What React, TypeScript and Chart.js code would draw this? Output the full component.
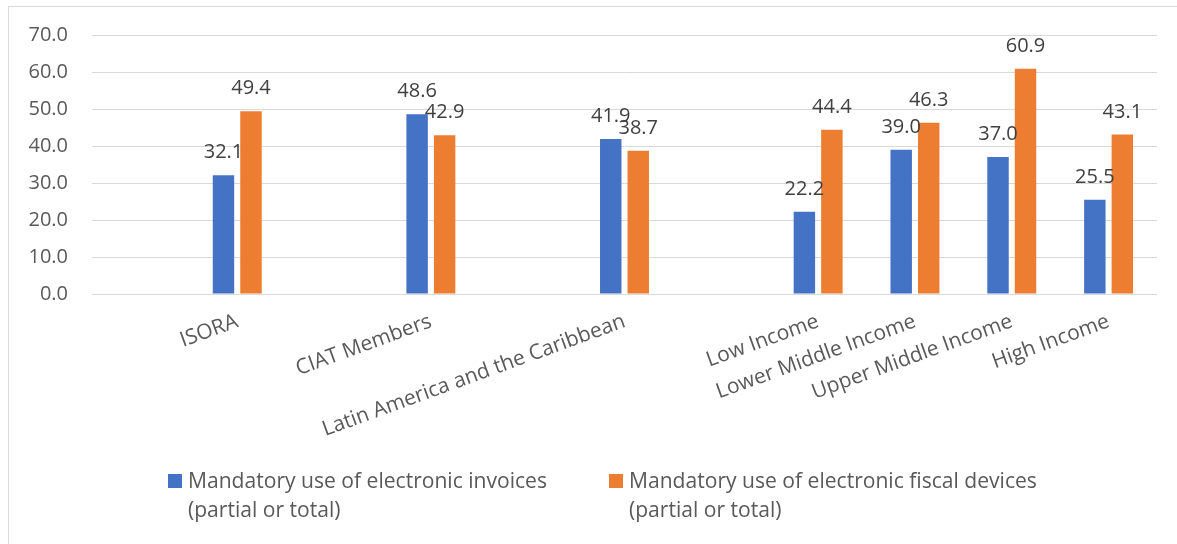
import React, { useEffect, useRef } from "react";
import { Chart, registerables } from "chart.js";

Chart.register(...registerables);

const categories = [
  "",
  "ISORA",
  "",
  "CIAT Members",
  "",
  "Latin America and the Caribbean",
  "",
  "Low Income",
  "Lower Middle Income",
  "Upper Middle Income",
  "High Income",
];
const invoices: (number | null)[] = [null, 32.1, null, 48.6, null, 41.9, null, 22.2, 39.0, 37.0, 25.5];
const fiscalDevices: (number | null)[] = [null, 49.4, null, 42.9, null, 38.7, null, 44.4, 46.3, 60.9, 43.1];
const seriesNames = [
  ["Mandatory use of electronic invoices", "(partial or total)"],
  ["Mandatory use of electronic fiscal devices", "(partial or total)"],
];
const seriesColors = ["#4472C4", "#ED7D31"];

const W = 1173;
const H = 540;

const dataLabels = {
  id: "dataLabels",
  afterDatasetsDraw(chart: any) {
    const ctx = chart.ctx;
    ctx.save();
    ctx.font = "20px 'Open Sans'";
    ctx.fillStyle = "#404040";
    ctx.textAlign = "center";
    ctx.textBaseline = "alphabetic";
    chart.data.datasets.forEach((ds: any, di: number) => {
      const meta = chart.getDatasetMeta(di);
      meta.data.forEach((el: any, i: number) => {
        const v = ds.data[i];
        if (v === null || v === undefined) return;
        ctx.fillText(Number(v).toFixed(1), el.x, el.y - 17);
      });
    });
    ctx.restore();
  },
};

const customLegend = {
  id: "customLegend",
  afterDraw(chart: any) {
    const ctx = chart.ctx;
    ctx.save();
    ctx.font = "21px 'Open Sans'";
    ctx.textAlign = "left";
    ctx.textBaseline = "alphabetic";
    const sx = 359 / ctx.measureText(seriesNames[0][0]).width;
    const starts = [159, 600];
    seriesNames.forEach((lines, si) => {
      const x0 = starts[si];
      ctx.fillStyle = seriesColors[si];
      ctx.fillRect(x0, 467, 14, 14);
      ctx.fillStyle = "#595959";
      lines.forEach((line, li) => {
        ctx.save();
        ctx.translate(x0 + 20, 481 + li * 28.5);
        ctx.scale(sx, 1);
        ctx.fillText(line, 0, 0);
        ctx.restore();
      });
    });
    ctx.restore();
  },
};

export default function App() {
  const ref = useRef<HTMLCanvasElement>(null);
  useEffect(() => {
    if (!ref.current) return;
    const chart = new Chart(ref.current, {
      type: "bar",
      data: {
        labels: categories,
        datasets: [
          {
            label: seriesNames[0].join(" "),
            data: invoices,
            backgroundColor: seriesColors[0],
            categoryPercentage: 0.568,
            barPercentage: 0.78,
          },
          {
            label: seriesNames[1].join(" "),
            data: fiscalDevices,
            backgroundColor: seriesColors[1],
            categoryPercentage: 0.568,
            barPercentage: 0.78,
          },
        ],
      },
      options: {
        responsive: false,
        animation: false,
        layout: { padding: { left: 0, right: 25, top: 28, bottom: 103 } },
        plugins: {
          legend: { display: false },
          tooltip: { enabled: false },
        },
        scales: {
          x: {
            grid: { display: false },
            border: { display: false },
            ticks: {
              autoSkip: false,
              minRotation: 20,
              maxRotation: 20,
              padding: 7,
              color: "#595959",
              font: { family: "'Open Sans'", size: 21 },
            },
            afterFit: (s: any) => {
              s.height = 150;
            },
          },
          y: {
            min: 0,
            max: 70,
            grid: {
              color: "#d9d9d9",
              lineWidth: 1,
              drawTicks: true,
              tickLength: 22,
              tickColor: "rgba(0,0,0,0)",
            },
            border: { display: false },
            ticks: {
              stepSize: 10,
              padding: 2,
              color: "#595959",
              font: { family: "'Open Sans'", size: 20 },
              callback: (v: any) => Number(v).toFixed(1),
            },
            afterFit: (s: any) => {
              s.width = 83;
            },
          },
        },
      },
      plugins: [dataLabels, customLegend],
    });
    return () => chart.destroy();
  }, []);
  return (
    <div
      style={{
        position: "absolute",
        left: 8,
        top: 6,
        width: W,
        height: H,
        border: "1px solid #d9d9d9",
        background: "#fff",
      }}
    >
      <canvas ref={ref} width={W} height={H} style={{ display: "block" }} />
    </div>
  );
}
